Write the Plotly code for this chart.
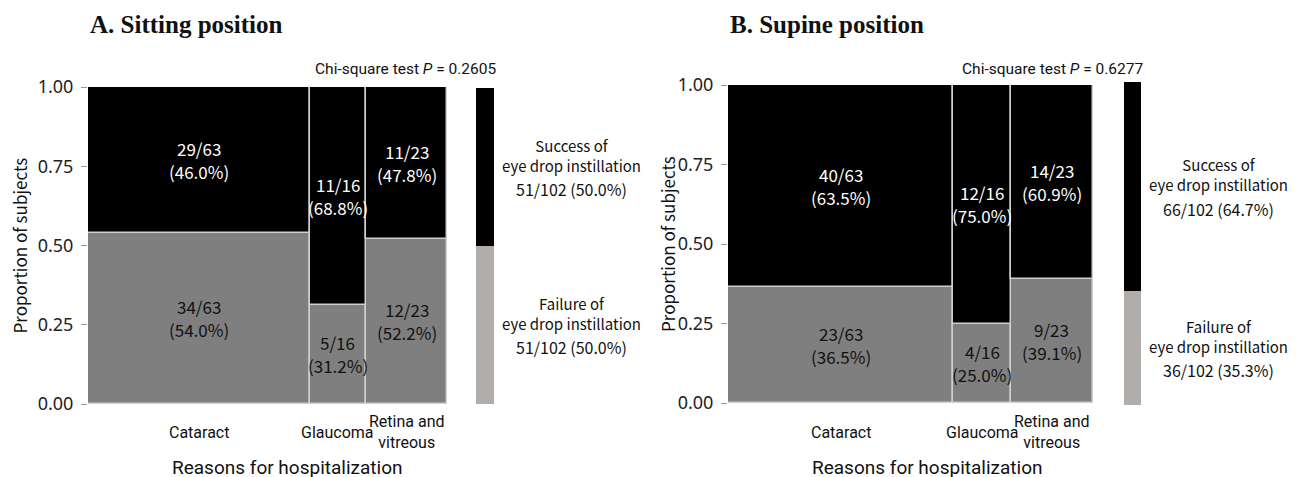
import plotly.graph_objects as go

# data
categories = ["Cataract", "Glaucoma", "Retina and<br>vitreous"]
totals = [63, 16, 23]
sitting_success = [29, 11, 11]
sitting_failure = [34, 5, 12]
supine_success = [40, 12, 14]
supine_failure = [23, 4, 9]
sitting_p = "0.2605"
supine_p = "0.6277"
ytick_vals = [0, 0.25, 0.5, 0.75, 1.0]
ytick_text = ["0.00", "0.25", "0.50", "0.75", "1.00"]

W, H = 1301, 477
OFF = 8  # page body margin
BLACK = "#000000"
GREY = "#7f7f7f"
LIGHT = "#b0adaa"
EDGE = "#cfcfcf"
INK = "#111111"
CELL_FONT = "Noto Sans CJK JP, Noto Sans, sans-serif"
NARROW = "Roboto, Liberation Sans, sans-serif"


def px(x):
    return (x - OFF) / W


def py(y):
    return 1 - (y - OFF) / H


fig = go.Figure()


def note(x, y, text, xref="paper", yref="paper", **kw):
    kw.setdefault("xanchor", "center")
    kw.setdefault("yanchor", "middle")
    fig.add_annotation(x=x, y=y, xref=xref, yref=yref, text=text, showarrow=False, **kw)


def cell(x, y, xa, ya, count, total, color):
    f = dict(family=CELL_FONT, size=17, color=color)
    note(x, y, f"{count}/{total}", xa, ya, yshift=11.5, font=f)
    note(x, y, f"({count / total * 100:.1f}%)", xa, ya, yshift=-11.5, font=f)


def panel(idx, title, success, failure, pval, xdom, ydom, legdom, legydom, leg_cx,
          plot_left, ytitle_x):
    xa = "x" if idx == 0 else "x3"
    ya = "y" if idx == 0 else "y3"
    xl = "x2" if idx == 0 else "x4"
    yl = "y2" if idx == 0 else "y4"
    n_all = sum(totals)
    lefts = [sum(totals[:i]) for i in range(len(totals))]
    centers = [l + t / 2 for l, t in zip(lefts, totals)]
    fail_p = [f / t for f, t in zip(failure, totals)]
    succ_p = [s / t for s, t in zip(success, totals)]

    fig.add_trace(go.Bar(x=centers, y=fail_p, width=totals, base=[0] * 3,
                         marker=dict(color=GREY, line=dict(color=EDGE, width=1.5)),
                         xaxis=xa, yaxis=ya, showlegend=False, hoverinfo="skip"))
    fig.add_trace(go.Bar(x=centers, y=succ_p, width=totals, base=fail_p,
                         marker=dict(color=BLACK, line=dict(color=EDGE, width=1.5)),
                         xaxis=xa, yaxis=ya, showlegend=False, hoverinfo="skip"))

    # cell labels
    for c, t, s, f, fp in zip(centers, totals, success, failure, fail_p):
        cell(c, fp + (1 - fp) / 2, xa, ya, s, t, "white")
        cell(c, fp / 2, xa, ya, f, t, INK)

    # category labels
    for c, name in zip(centers, categories):
        note(c, py(432), name, xa, "paper", font=dict(family=NARROW, size=16, color=INK))

    # legend bar
    s_all = sum(success)
    f_all = sum(failure)
    fig.add_trace(go.Bar(x=[0], y=[f_all / n_all], base=[0], width=[1],
                         marker=dict(color=LIGHT, line=dict(width=0)),
                         xaxis=xl, yaxis=yl, showlegend=False, hoverinfo="skip"))
    fig.add_trace(go.Bar(x=[0], y=[s_all / n_all], base=[f_all / n_all], width=[1],
                         marker=dict(color=BLACK, line=dict(width=0)),
                         xaxis=xl, yaxis=yl, showlegend=False, hoverinfo="skip"))
    lf = dict(family=CELL_FONT, size=15, color=INK)
    for mid, head, k in [(f_all / n_all + s_all / n_all / 2, "Success of", s_all),
                         (f_all / n_all / 2, "Failure of", f_all)]:
        note(leg_cx, mid, f"{head}<br>eye drop instillation", "paper", yl, yshift=12, font=lf)
        note(leg_cx, mid, f"{k}/{n_all} ({k / n_all * 100:.1f}%)", "paper", yl, yshift=-22,
             font=dict(family=CELL_FONT, size=16, color=INK))

    # titles
    note(xdom[0], py(25), f"<b>{title}</b>", xanchor="left",
         font=dict(family="Liberation Serif, Times New Roman, serif", size=25, color=INK))
    note(legdom[1] + px(OFF + 4), py(69), f"Chi-square test <i>P</i> = {pval}", xanchor="right",
         font=dict(family=NARROW, size=15.5, color=INK))
    note(px(ytitle_x), (ydom[0] + ydom[1]) / 2, "Proportion of subjects", textangle=-90,
         font=dict(family=CELL_FONT, size=17, color=INK))
    note(px(plot_left + 82), py(467), "Reasons for hospitalization", xanchor="left",
         font=dict(family=NARROW, size=19, color=INK))

    sfx = "" if idx == 0 else "3"
    lsfx = "2" if idx == 0 else "4"
    fig.update_layout({
        f"xaxis{sfx}": dict(domain=xdom, range=[0, n_all], anchor=ya, visible=False, fixedrange=True),
        f"yaxis{sfx}": dict(domain=ydom, range=[0, 1], anchor=xa, tickvals=ytick_vals,
                            ticktext=ytick_text, ticks="outside", ticklen=6, tickcolor="#9a9a9a",
                            ticklabelstandoff=4,
                            showgrid=False, zeroline=False, showline=False, automargin=False,
                            tickfont=dict(family="Noto Sans, sans-serif", size=18, color="#222222")),
        f"xaxis{lsfx}": dict(domain=legdom, range=[-0.5, 0.5], anchor=yl, visible=False),
        f"yaxis{lsfx}": dict(domain=legydom, range=[0, 1], anchor=xl, visible=False),
    })


panel(0, "A. Sitting position", sitting_success, sitting_failure, sitting_p,
      [px(88), px(447)], [py(404), py(87)], [px(476), px(494)], [py(404), py(88)], px(571),
      88, 19)
panel(1, "B. Supine position", supine_success, supine_failure, supine_p,
      [px(728), px(1093)], [py(403), py(85)], [px(1124), px(1141)], [py(405), py(82)], px(1218),
      728, 668)

fig.update_layout(
    template="none",
    width=W, height=H,
    margin=dict(l=0, r=0, t=0, b=0, pad=0, autoexpand=False),
    barmode="overlay", bargap=0,
    plot_bgcolor="white", paper_bgcolor="white",
)

fig.write_html("out.html")
